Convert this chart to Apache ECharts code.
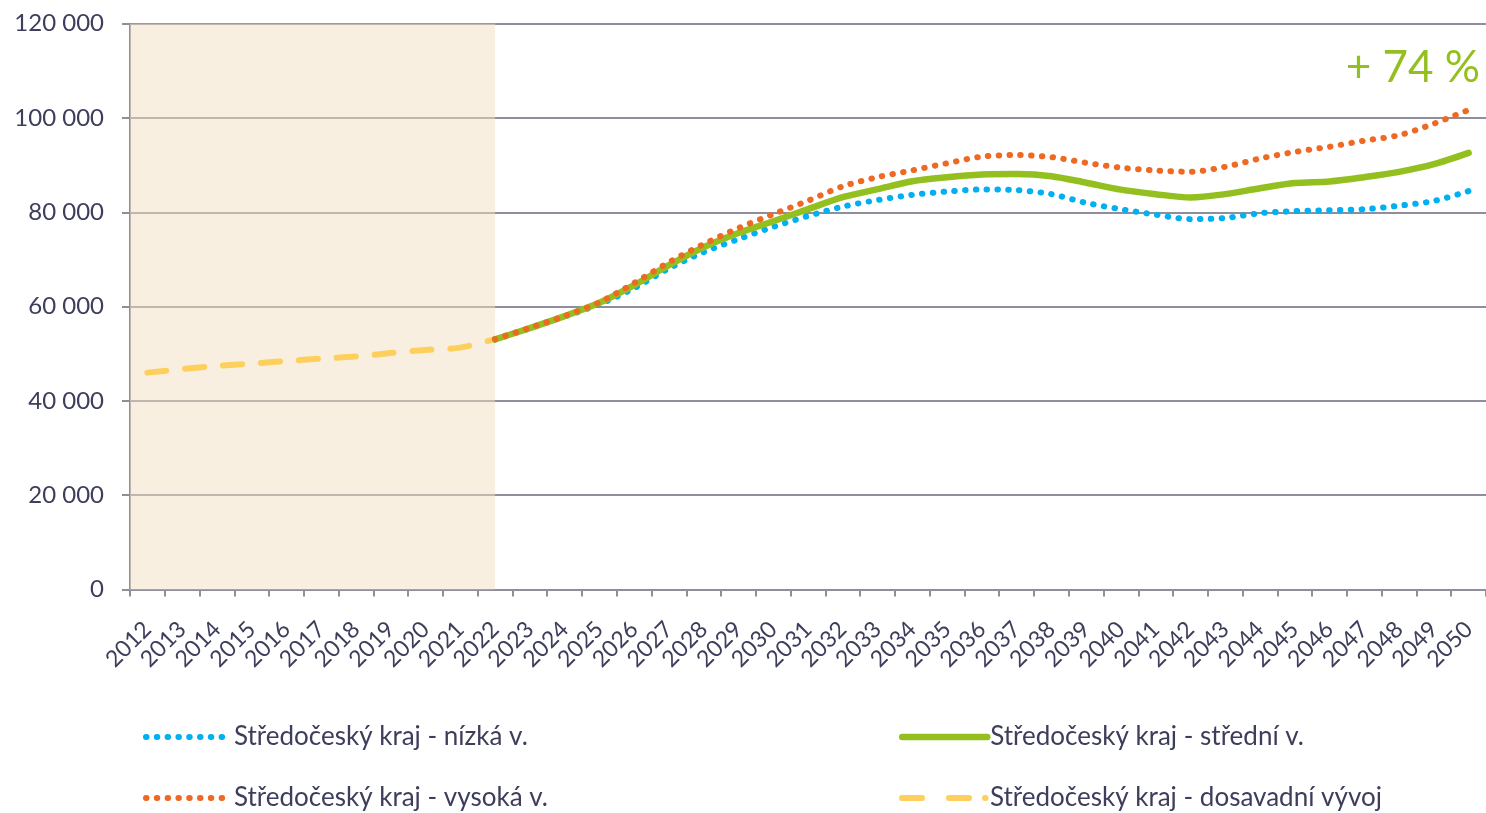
<!DOCTYPE html>
<html>
<head>
<meta charset="utf-8">
<script src="https://cdn.jsdelivr.net/npm/echarts@6/dist/echarts.min.js"></script>
<style>
html,body{margin:0;padding:0;background:#fff;}
#chart{width:1486px;height:813px;}
</style>
</head>
<body>
<div id="chart"></div>
<script>
const years = ['2012','2013','2014','2015','2016','2017','2018','2019','2020','2021','2022','2023','2024','2025','2026','2027','2028','2029','2030','2031','2032','2033','2034','2035','2036','2037','2038','2039','2040','2041','2042','2043','2044','2045','2046','2047','2048','2049','2050'];
const nameLow = 'Středočeský kraj - nízká v.';
const nameMid = 'Středočeský kraj - střední v.';
const nameHigh = 'Středočeský kraj - vysoká v.';
const nameHist = 'Středočeský kraj - dosavadní vývoj';
const histValues = [46000,46750,47400,47900,48450,48970,49400,50150,50800,51300,53100];
const lowValues = [53000,55400,57900,60500,63900,68100,71550,74300,76900,79200,81200,82600,83700,84400,84850,84700,83850,82000,80650,79500,78550,78800,79800,80250,80450,80650,81400,82400,84500];
const midValues = [53050,55450,57980,60800,64550,68800,72600,75600,78100,80660,83200,84900,86600,87450,88000,88100,87660,86280,84800,83850,83150,83850,85100,86200,86540,87450,88570,90200,92600];
const highValues = [53100,55500,58000,60900,65000,69400,73250,76650,79600,82450,85500,87450,88900,90400,91800,92150,91700,90500,89460,88870,88600,89650,91400,92800,93900,95200,96350,98800,101700];
const yTicks = [0,20000,40000,60000,80000,100000,120000];
const annotation = '+ 74 %';
const histEndIndex = 10;

const pad = (arr, before) => Array(before).fill(null).concat(arr);
const histData = histValues.concat(Array(years.length - histValues.length).fill(null));
const projStart = years.indexOf('2022');
const lowData = pad(lowValues, projStart);
const midData = pad(midValues, projStart);
const highData = pad(highValues, projStart);

const textColor = '#3d3d5c';
const gridColor = '#8f8f9b';
const FONT = 'Lato';

const styles = {
  low:  {color:'#00b0f0', width:6, type:[0.5,10.3], cap:'round'},
  mid:  {color:'#93c01f', width:6.5, type:'solid', cap:'round'},
  high: {color:'#ee6a24', width:6, type:[0.5,10.3], cap:'round'},
  hist: {color:'#fdd05e', width:6, type:[19,19], cap:'round'}
};
const histLegendDash = [20,27,20,16,0.5,60];

const chart = echarts.init(document.getElementById('chart'), null, {renderer:'canvas'});

function legendAt(name, st, left, top, dash){
  return {
    data:[name], left:left, top:top, orient:'horizontal',
    itemWidth:85, itemHeight:14, itemGap:0, padding:0,
    itemStyle:{opacity:0},
    lineStyle:{width:st.width, type:dash || st.type, cap:st.cap, color:st.color},
    textStyle:{color:textColor, fontSize:26, fontFamily:FONT, padding:[0,0,0,-2]},
    selectedMode:false
  };
}

chart.setOption({
  animation:false,
  backgroundColor:'#ffffff',
  grid:{left:130, top:23.7, right:-5, bottom:223.5, containLabel:false},
  legend:[
    legendAt(nameLow, styles.low, 143, 724),
    legendAt(nameMid, styles.mid, 899, 724),
    legendAt(nameHigh, styles.high, 143, 785),
    legendAt(nameHist, styles.hist, 899, 785, histLegendDash)
  ],
  xAxis:[{
    type:'category', data:years, boundaryGap:true,
    axisLine:{show:true, onZero:false, lineStyle:{color:gridColor, width:2}},
    axisTick:{show:true, length:7, lineStyle:{color:gridColor, width:2}},
    axisLabel:{rotate:45, interval:0, color:textColor, fontSize:23, fontFamily:FONT, margin:36},
    splitLine:{show:false}
  },{
    type:'value', min:-0.5, max:years.length-0.5, show:false
  }],
  yAxis:{
    type:'value', min:yTicks[0], max:yTicks[yTicks.length-1], interval:20000,
    axisLine:{show:true, onZero:false, lineStyle:{color:gridColor, width:2}},
    axisTick:{show:true, length:8, lineStyle:{color:gridColor, width:2}},
    axisLabel:{color:textColor, fontSize:24, fontFamily:FONT, margin:26,
      formatter:v => String(v).replace(/\B(?=(\d{3})+(?!\d))/g,' ')},
    splitLine:{show:true, lineStyle:{color:gridColor, width:2}}
  },
  graphic:[{
    type:'text', right:6, top:46,
    style:{text:annotation, fill:'#93c01f', font:'44px '+FONT}
  }],
  series:[
    {
      name:'shade', type:'line', xAxisIndex:1, data:[], silent:true,
      markArea:{silent:true, itemStyle:{color:'rgba(243,222,191,0.49)'},
        data:[[{xAxis:-0.5},{xAxis:histEndIndex}]]}
    },
    {
      name:nameHist, type:'line', data:histData, smooth:0.3, symbol:'none', z:2,
      lineStyle:styles.hist, itemStyle:{color:styles.hist.color}
    },
    {
      name:nameLow, type:'line', data:lowData, smooth:0.3, symbol:'none', z:3,
      lineStyle:styles.low, itemStyle:{color:styles.low.color}
    },
    {
      name:nameMid, type:'line', data:midData, smooth:0.3, symbol:'none', z:4,
      lineStyle:styles.mid, itemStyle:{color:styles.mid.color}
    },
    {
      name:nameHigh, type:'line', data:highData, smooth:0.3, symbol:'none', z:5,
      lineStyle:styles.high, itemStyle:{color:styles.high.color}
    }
  ]
});
</script>
</body>
</html>
